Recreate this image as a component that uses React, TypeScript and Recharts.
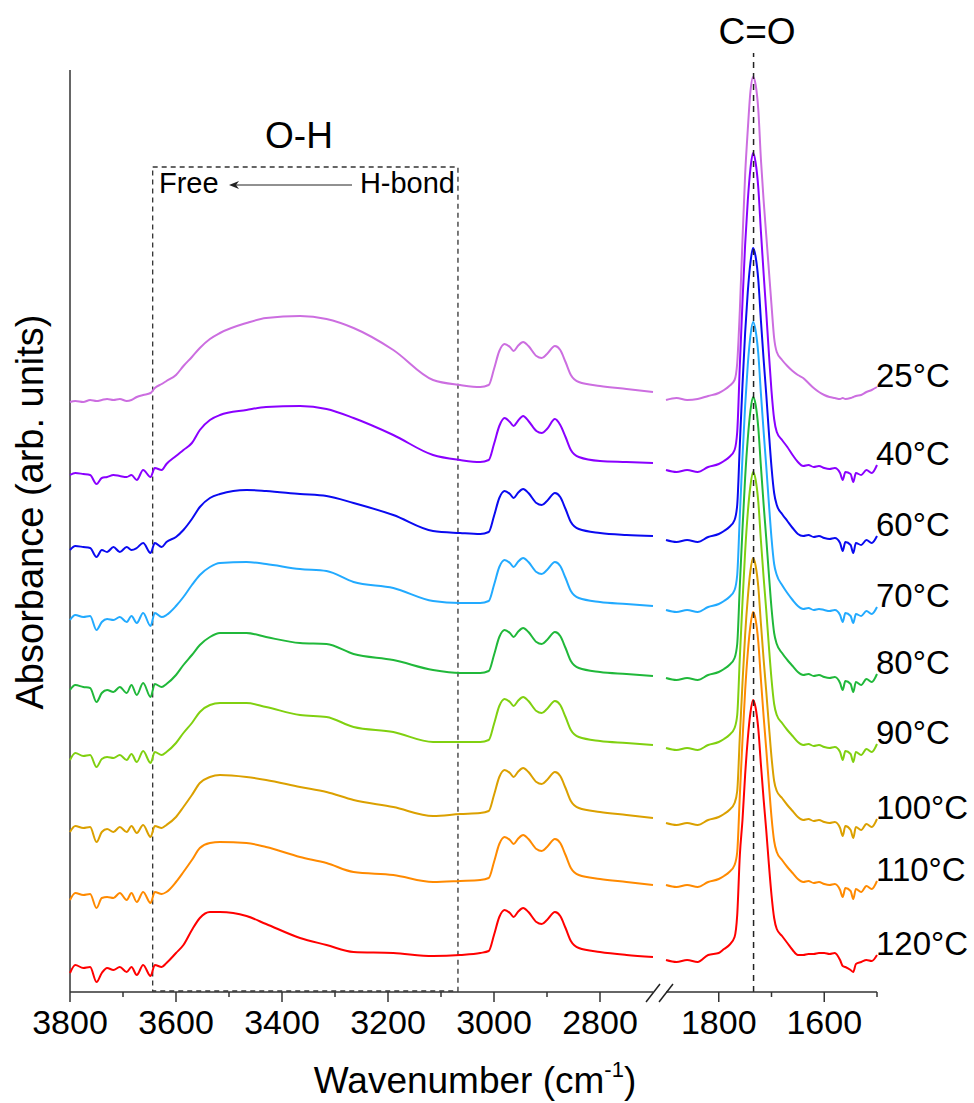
import { LineChart, Line, XAxis, YAxis, ReferenceLine, ReferenceArea, LabelList } from 'recharts'

// wavenumber grids (cm-1) for the two halves of the broken axis
const leftWavenumbers = [
  3800, 3790, 3775, 3762, 3750, 3740, 3730, 3718, 3706, 3693, 3684, 3674, 3662, 3648, 3640, 3627,
  3618, 3600, 3586, 3570, 3555, 3536, 3517, 3467, 3430, 3366, 3316, 3265, 3190, 3115, 3064, 3026,
  3010, 3000, 2990, 2980, 2970, 2963, 2955, 2945, 2935, 2920, 2910, 2900, 2885, 2875, 2865, 2855,
  2840, 2800, 2750, 2700,
]
const rightWavenumbers = [
  1900, 1880, 1860, 1840, 1820, 1800, 1790, 1780, 1770, 1765, 1760, 1755, 1750, 1745, 1740, 1735,
  1730, 1725, 1720, 1715, 1710, 1705, 1700, 1695, 1690, 1680, 1670, 1660, 1650, 1640, 1630, 1620,
  1610, 1600, 1590, 1580, 1570, 1565, 1560, 1550, 1545, 1540, 1530, 1520, 1510, 1500,
]

const leftTicks = [3800, 3700, 3600, 3500, 3400, 3300, 3200, 3100, 3000, 2900, 2800]
const rightTicks = [1800, 1700, 1600, 1500]

const temperatures = ['25°C', '40°C', '60°C', '70°C', '80°C', '90°C', '100°C', '110°C', '120°C']

// stacked absorbance (arb. units), O-H / C-H region
const oh25 = [590, 591, 590, 592, 591, 592, 593, 592, 593, 591, 592, 595, 597, 599, 604, 608, 611, 617, 626, 635, 644, 653, 659, 669, 674, 676, 673, 664, 642, 612, 607, 605, 607, 623, 641, 648, 645, 641, 646, 650, 646, 636, 634, 638, 646, 642, 630, 617, 610, 606, 603, 600]
const oh40 = [517, 519, 518, 517, 508, 514, 515, 517, 516, 515, 517, 512, 522, 515, 524, 522, 528, 536, 542, 549, 562, 572, 577, 582, 585, 586, 583, 574, 557, 537, 532, 530, 532, 548, 566, 574, 570, 566, 571, 576, 571, 561, 559, 563, 573, 567, 555, 542, 535, 531, 530, 529]
const oh60 = [442, 446, 445, 444, 435, 442, 440, 445, 440, 445, 442, 444, 449, 439, 449, 445, 450, 455, 462, 473, 485, 494, 498, 502, 501, 498, 496, 489, 477, 461, 459, 458, 460, 476, 494, 501, 498, 494, 499, 503, 499, 489, 487, 491, 499, 495, 483, 470, 463, 459, 457, 456]
const oh70 = [372, 377, 375, 376, 362, 370, 373, 372, 375, 370, 376, 369, 379, 366, 379, 375, 377, 386, 395, 407, 417, 425, 429, 430, 428, 423, 421, 410, 404, 391, 389, 389, 391, 407, 425, 432, 429, 425, 430, 434, 430, 420, 418, 422, 430, 426, 414, 401, 394, 390, 388, 386]
const oh80 = [302, 307, 305, 304, 290, 299, 302, 300, 305, 299, 307, 297, 309, 295, 308, 305, 308, 317, 327, 337, 347, 355, 359, 359, 355, 349, 348, 338, 332, 322, 319, 319, 321, 337, 355, 362, 359, 355, 360, 364, 360, 350, 348, 352, 360, 356, 344, 331, 324, 320, 318, 316]
const oh90 = [232, 239, 236, 237, 225, 233, 235, 234, 237, 232, 238, 230, 241, 229, 240, 237, 240, 249, 259, 269, 280, 287, 289, 289, 285, 277, 275, 265, 260, 250, 250, 250, 252, 268, 286, 293, 290, 286, 291, 295, 291, 281, 279, 283, 291, 287, 275, 262, 255, 251, 249, 247]
const oh100 = [160, 166, 164, 165, 150, 160, 163, 160, 165, 160, 166, 159, 167, 155, 166, 164, 167, 175, 185, 197, 209, 215, 217, 215, 212, 205, 200, 192, 185, 176, 178, 179, 181, 197, 215, 222, 219, 215, 220, 224, 220, 210, 208, 212, 220, 216, 204, 191, 184, 180, 177, 174]
const oh110 = [92, 99, 97, 98, 84, 94, 95, 94, 99, 92, 99, 90, 100, 89, 100, 98, 100, 110, 120, 132, 144, 149, 150, 149, 145, 135, 129, 120, 117, 110, 111, 112, 114, 130, 148, 155, 152, 148, 153, 157, 153, 143, 141, 145, 153, 149, 137, 124, 117, 113, 110, 107]
const oh120 = [19, 27, 24, 25, 10, 19, 24, 22, 25, 20, 25, 17, 27, 16, 27, 25, 29, 39, 47, 62, 74, 80, 80, 76, 68, 54, 47, 40, 39, 36, 37, 39, 41, 57, 75, 82, 79, 75, 80, 84, 80, 70, 68, 72, 80, 76, 64, 51, 44, 40, 37, 35]

// C=O region
const co25 = [592, 594, 592, 593, 596, 599, 602, 606, 612, 629, 682, 752, 817, 862, 900, 915, 907, 882, 832, 792, 757, 722, 687, 654, 640, 632, 626, 621, 617, 614, 609, 604, 600, 597, 595, 594, 593, 594, 593, 594, 595, 596, 597, 600, 602, 605]
const co40 = [522, 520, 522, 520, 525, 528, 531, 535, 542, 560, 627, 690, 747, 791, 823, 839, 829, 804, 760, 719, 680, 639, 601, 573, 560, 552, 545, 537, 530, 526, 527, 525, 526, 524, 523, 524, 519, 512, 520, 518, 510, 519, 517, 522, 519, 527]
const co60 = [452, 450, 452, 450, 455, 458, 461, 465, 472, 487, 548, 607, 659, 700, 729, 744, 735, 712, 671, 633, 598, 560, 525, 499, 487, 478, 471, 464, 458, 456, 457, 455, 456, 454, 453, 454, 449, 441, 450, 447, 439, 449, 447, 452, 449, 456]
const co70 = [382, 380, 382, 380, 385, 388, 391, 395, 402, 417, 477, 535, 586, 627, 656, 670, 661, 638, 598, 561, 526, 489, 454, 428, 417, 407, 399, 392, 386, 383, 384, 382, 383, 382, 381, 382, 377, 370, 379, 376, 369, 378, 376, 381, 378, 385]
const co80 = [314, 312, 314, 312, 317, 320, 323, 327, 334, 348, 407, 463, 514, 553, 581, 595, 587, 564, 525, 488, 454, 418, 384, 359, 348, 339, 332, 326, 320, 317, 318, 316, 317, 315, 314, 315, 309, 302, 311, 308, 300, 310, 307, 313, 310, 318]
const co90 = [244, 242, 244, 242, 247, 250, 253, 257, 264, 277, 335, 390, 440, 479, 506, 520, 512, 490, 451, 415, 382, 346, 313, 288, 277, 269, 262, 256, 250, 247, 248, 246, 247, 245, 244, 245, 240, 232, 241, 238, 230, 240, 237, 243, 240, 248]
const co100 = [169, 167, 169, 167, 172, 175, 178, 182, 189, 201, 256, 309, 357, 394, 421, 434, 426, 405, 368, 333, 301, 267, 235, 211, 201, 194, 187, 181, 175, 172, 173, 171, 172, 170, 169, 170, 164, 156, 166, 162, 154, 165, 162, 168, 165, 173]
const co110 = [107, 105, 107, 105, 110, 113, 116, 120, 127, 140, 197, 252, 301, 339, 366, 380, 372, 350, 312, 276, 243, 208, 175, 151, 140, 132, 125, 119, 113, 110, 111, 109, 110, 108, 107, 108, 102, 95, 104, 101, 93, 103, 100, 106, 103, 111]
const co120 = [32, 30, 32, 30, 37, 39, 43, 47, 55, 77, 137, 172, 217, 253, 279, 292, 284, 263, 227, 193, 162, 128, 97, 74, 63, 56, 49, 42, 37, 37, 38, 38, 39, 39, 38, 39, 32, 26, 25, 22, 20, 28, 30, 32, 31, 37]

const leftSeries = [oh25, oh40, oh60, oh70, oh80, oh90, oh100, oh110, oh120]
const rightSeries = [co25, co40, co60, co70, co80, co90, co100, co110, co120]
const keys = ['t25', 't40', 't60', 't70', 't80', 't90', 't100', 't110', 't120']

const COLORS = ['#cc6ee0', '#8a00ff', '#0a0af0', '#22aaff', '#20b83a', '#80d010', '#dba000', '#ff8a00', '#ff0000']

const leftData = leftWavenumbers.map((wn, i) => {
  const row: any = { wn }
  keys.forEach((k, s) => (row[k] = leftSeries[s][i]))
  return row
})
const rightData = rightWavenumbers.map((wn, i) => {
  const row: any = { wn }
  keys.forEach((k, s) => (row[k] = rightSeries[s][i]))
  return row
})

const FONT = '"Liberation Sans", Arial, sans-serif'
const Y_DOMAIN = [0, 939]
const AXIS = '#333'

// major ticks every 200 with labels, minor ones in between
const WaveTick = ({ x, y, payload }: any) => {
  const major = payload.value % 200 === 0
  return (
    <g>
      <line x1={x} x2={x} y1={y} y2={y + (major ? 10 : 5)} stroke={AXIS} strokeWidth={1.5} />
      {major && (
        <text x={x} y={y + 30} textAnchor="middle" dominantBaseline="central" fontSize={34} fontFamily={FONT} fill="#000">
          {payload.value}
        </text>
      )}
    </g>
  )
}

const TempLabel = (text: string) => (p: any) => {
  const last = rightWavenumbers.length - 1
  const x = p.viewBox?.x ?? p.x
  const y = p.viewBox?.y ?? p.y
  const isLast = p.index === last || (p.index === undefined && x > 870)
  if (!isLast) return null
  return (
    <text x={x - 1} y={y - 12} dominantBaseline="central" fontSize={33} fontFamily={FONT} fill="#000">
      {text}
    </text>
  )
}

export default function App() {
  return (
    <div style={{ position: 'absolute', left: 0, top: 0, width: 974, height: 1103, background: '#fff', fontFamily: FONT }}>
      <div style={{ position: 'absolute', left: 0, top: 0 }}>
        <LineChart width={660} height={1103} data={leftData} margin={{ top: 53, right: 7, bottom: 71, left: 70 }}>
          <XAxis
            dataKey="wn"
            type="number"
            domain={[2700, 3800]}
            reversed
            ticks={leftTicks}
            interval={0}
            height={40}
            tickSize={0}
            tickMargin={0}
            tickLine={false}
            axisLine={{ stroke: AXIS, strokeWidth: 1.5 }}
            tick={<WaveTick />}
          />
          <YAxis hide domain={Y_DOMAIN} type="number" />
          <ReferenceLine segment={[{ x: 3800, y: 0 }, { x: 3800, y: 922 }]} stroke={AXIS} strokeWidth={1.5} />
          <ReferenceArea x1={3644} x2={3068} y1={1} y2={825} fill="none" stroke="#333" strokeWidth={1.3} strokeDasharray="5 4" />
          {keys.map((k, s) => (
            <Line key={k} type="monotone" dataKey={k} stroke={COLORS[s]} strokeWidth={2} dot={false} isAnimationActive={false} />
          ))}
        </LineChart>
      </div>
      <div style={{ position: 'absolute', left: 600, top: 0 }}>
        <LineChart width={374} height={1103} data={rightData} margin={{ top: 53, right: 97, bottom: 71, left: 66 }}>
          <XAxis
            dataKey="wn"
            type="number"
            domain={[1500, 1900]}
            reversed
            ticks={rightTicks}
            interval={0}
            height={40}
            tickSize={0}
            tickMargin={0}
            tickLine={false}
            axisLine={{ stroke: AXIS, strokeWidth: 1.5 }}
            tick={<WaveTick />}
          />
          <YAxis hide domain={Y_DOMAIN} type="number" />
          {keys.map((k, s) => (
            <Line key={k} type="monotone" dataKey={k} stroke={COLORS[s]} strokeWidth={2} dot={false} isAnimationActive={false}>
              <LabelList dataKey={k} content={TempLabel(temperatures[s])} />
            </Line>
          ))}
          <ReferenceLine x={1734} stroke="#222" strokeWidth={1.5} strokeDasharray="6 5" />
        </LineChart>
      </div>
      <svg width={974} height={1103} style={{ position: 'absolute', left: 0, top: 0, pointerEvents: 'none' }} fontFamily={FONT}>
        <text x={30} y={512} transform="rotate(-90 30 512)" textAnchor="middle" dominantBaseline="central" fontSize={38} fill="#000">
          Absorbance (arb. units)
        </text>
        <text x={475} y={1093} textAnchor="middle" fontSize={37} fill="#000">
          Wavenumber (cm
          <tspan fontSize={22} dy={-16}>-1</tspan>
          <tspan dy={16}>)</tspan>
        </text>
        <text x={299} y={135} textAnchor="middle" dominantBaseline="central" fontSize={37} fill="#000">O-H</text>
        <text x={757} y={31} textAnchor="middle" dominantBaseline="central" fontSize={37} fill="#000">C=O</text>
        <text x={159} y={183} dominantBaseline="central" fontSize={29} fill="#000">Free</text>
        <text x={455} y={183} textAnchor="end" dominantBaseline="central" fontSize={29} fill="#000">H-bond</text>
        <line x1={352} y1={185} x2={232} y2={185} stroke="#222" strokeWidth={1} />
        <path d="M239,181 L229,185 L239,189 L236,185 Z" fill="#222" />
        <line x1={646} y1={1002} x2={660} y2={984} stroke="#222" strokeWidth={1.5} />
        <line x1={659} y1={1002} x2={673} y2={984} stroke="#222" strokeWidth={1.5} />
      </svg>
    </div>
  )
}
